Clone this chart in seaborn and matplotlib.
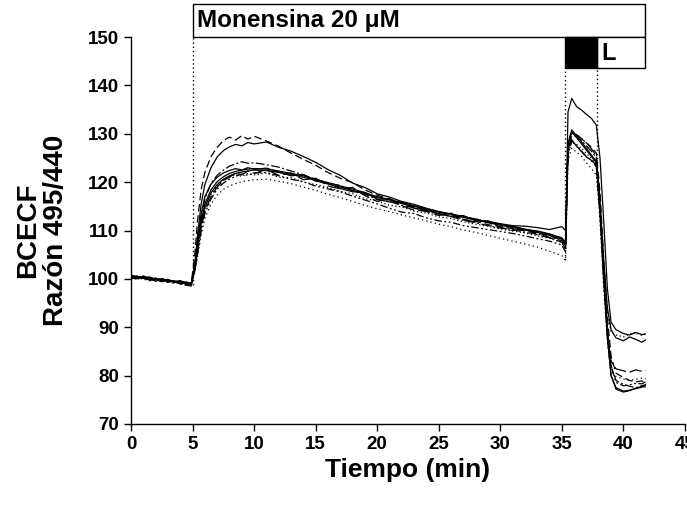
import matplotlib
matplotlib.use("Agg")
import matplotlib.pyplot as plt
from matplotlib.patches import Rectangle
import seaborn as sns
import pandas as pd

sns.set_style("ticks")
plt.rcParams['font.family'] = ['Liberation Sans', 'DejaVu Sans']
plt.rcParams['text.color'] = 'black'
plt.rcParams['axes.labelcolor'] = 'black'
plt.rcParams['xtick.color'] = 'black'
plt.rcParams['ytick.color'] = 'black'

# time axis (min)
t = [0, 0.5, 1, 1.5, 2, 2.5, 3, 3.5, 4, 4.5, 4.9,
     5.2, 5.4, 5.7, 6, 6.5, 7, 7.5, 8, 8.5, 9, 9.5, 10,
     11, 12, 13, 14, 15, 16, 17, 18, 19, 20, 21, 22, 23, 24, 25, 26, 27, 28, 29,
     30, 31, 32, 33, 34, 35, 35.3,
     35.5, 35.8, 36.2, 36.6, 37, 37.4, 37.8,
     38.1, 38.4, 38.7, 39.0, 39.4, 40, 40.5, 41, 41.5, 41.8]

cell_a = [100.6, 100.4, 100.2, 100.3, 99.9, 100.0, 99.7, 99.5, 99.6, 99.2, 99.0,
          103.5, 109, 115.5, 119.5, 123, 125.2, 126.5, 127.3, 127.8, 127.5, 128.2, 127.9,
          128.3, 127.2, 126.4, 125.3, 124.1, 122.6, 121.4, 119.8, 118.9, 117.6, 116.9, 116.0, 115.4,
          114.6, 113.9, 113.4, 112.8, 112.4, 111.7, 111.3, 110.9, 110.2, 109.9, 109.3, 108.4, 107.6,
          134.5, 137.3, 135.6, 134.9, 134.0, 133.2, 131.8,
          125, 112, 98, 91, 89.5, 88.7, 88.4, 88.9, 88.5, 88.6]
cell_b = [100.2, 100.5, 100.1, 99.8, 100.2, 99.6, 99.9, 99.3, 99.5, 99.0, 99.2,
          105.5, 112, 118.5, 122, 125.3, 127.2, 128.6, 129.3, 128.7, 129.6, 128.9, 129.5,
          128.5, 127.4, 126.0, 124.7, 123.5, 122.0, 120.8, 119.9, 118.4, 117.3, 116.5, 115.6, 114.9,
          114.3, 113.5, 113.1, 112.3, 111.9, 111.2, 110.8, 110.4, 109.9, 109.5, 108.9, 108.0, 107.2,
          128.5, 130.2, 129.8, 129.0, 128.1, 127.2, 126.0,
          118, 104, 92, 84, 80.5, 79.6, 79.0, 78.7, 78.9, 78.6]
cell_c = [100.4, 100.1, 100.3, 99.9, 99.7, 100.1, 99.5, 99.6, 99.1, 99.3, 98.9,
          103, 107.5, 112.5, 116.5, 119.8, 121.4, 122.5, 123.3, 123.8, 124.2, 123.9, 124.0,
          123.6, 123.1, 122.3, 121.5, 120.6, 119.8, 119.3, 118.2, 117.5, 116.4, 116.0, 115.2, 114.7,
          113.9, 113.4, 112.9, 112.1, 111.6, 111.0, 110.5, 110.2, 109.6, 109.3, 108.6, 107.9, 107.0,
          127.8, 130.0, 129.3, 128.6, 127.5, 126.4, 125.0,
          116, 102, 90, 82, 79, 78.2, 77.8, 77.5, 77.9, 77.6]
cell_d = [100.8, 100.3, 100.5, 100.0, 99.9, 99.7, 99.8, 99.4, 99.1, 99.4, 98.8,
          102.5, 106.5, 111.5, 114.8, 117.8, 119.5, 120.6, 121.3, 121.8, 122.1, 122.3, 122.5,
          122.4, 122.0, 121.6, 121.0, 120.4, 119.6, 119.0, 118.3, 117.6, 116.8, 116.3, 115.6, 115.0,
          114.3, 113.8, 113.3, 112.7, 112.2, 111.6, 111.1, 110.6, 110.1, 109.6, 109.0, 108.2, 106.8,
          128.0, 130.8, 129.6, 128.3, 127.0, 125.6, 124.3,
          114, 100, 88, 80, 77.5, 76.8, 77.0, 77.3, 77.6, 77.9]
cell_e = [100.1, 100.6, 99.8, 100.2, 99.5, 100.0, 99.3, 99.7, 98.9, 99.2, 98.7,
          102, 105.5, 110.5, 114, 117, 119, 120.3, 121.0, 121.9, 121.5, 122.3, 121.8,
          122.6, 121.4, 121.9, 120.5, 120.8, 119.2, 118.6, 118.9, 117.2, 116.0, 116.6, 115.1, 114.2,
          114.0, 113.1, 113.6, 112.2, 111.8, 112.0, 110.7, 110.0, 110.4, 109.1, 108.5, 107.6, 106.2,
          126.5, 129.6, 129.8, 128.9, 128.2, 126.9, 125.4,
          115, 101, 89, 83, 81.4, 81.0, 80.7, 81.2, 80.9, 81.1]
cell_f = [100.5, 100.2, 100.4, 99.7, 100.0, 99.5, 99.6, 99.0, 99.3, 98.6, 98.9,
          101.5, 104.5, 109, 112.5, 115.5, 117.3, 118.5, 119.2, 119.7, 120.1, 120.3, 120.5,
          120.6, 120.2, 119.7, 119.0, 118.3, 117.5, 116.8, 116.0, 115.2, 114.5, 113.9, 113.2, 112.6,
          112.0, 111.3, 110.8, 110.1, 109.6, 109.0, 108.4, 107.8, 107.2, 106.6, 105.7, 104.8, 103.8,
          124.5, 127.0, 126.2, 125.3, 124.0, 122.8, 121.5,
          112, 98, 87, 81, 79.8, 79.3, 79.0, 79.2, 79.5, 79.4]
cell_g = [100.3, 100.0, 100.6, 100.1, 99.8, 99.4, 99.9, 99.2, 99.6, 98.8, 99.1,
          103, 108, 113.5, 117, 119.6, 121, 121.9, 122.4, 122.8, 122.5, 123.0, 122.6,
          122.9, 122.1, 121.3, 121.6, 120.2, 119.8, 118.7, 118.0, 117.9, 116.5, 115.9, 115.8, 114.6,
          114.2, 113.5, 112.9, 113.1, 112.0, 111.9, 111.4, 111.0, 110.9, 110.6, 110.2, 110.8, 110.0,
          127.0, 128.8, 127.4, 126.3, 125.2, 124.5, 123.6,
          116, 104, 94, 89.5, 87.8, 87.2, 88.0, 87.5, 86.9, 87.4]
cell_h = [100.0, 100.4, 100.0, 99.6, 100.1, 99.8, 99.4, 99.5, 99.0, 98.7, 98.5,
          101.8, 105, 110, 113.5, 116.5, 118.6, 119.8, 120.6, 121.2, 121.7, 121.4, 121.9,
          122.0, 121.3, 120.6, 120.1, 119.2, 118.6, 118.0, 117.1, 116.3, 115.5, 114.6, 113.8, 113.5,
          112.6, 112.0, 111.7, 111.0, 110.6, 110.2, 109.8, 109.4, 108.9, 108.3, 107.8, 107.0, 105.6,
          125.5, 128.5, 127.6, 126.4, 125.3, 124.4, 123.2,
          113, 100, 89, 82, 78.6, 77.9, 78.1, 78.4, 78.3, 78.7]
cell_i = [100.7, 100.5, 100.2, 100.4, 99.9, 99.6, 99.8, 99.3, 99.5, 99.1, 99.0,
          102.8, 107, 112, 115.5, 118.4, 120.1, 121.1, 121.8, 122.2, 122.5, 122.7, 122.8,
          122.7, 122.3, 121.8, 121.3, 120.6, 119.9, 119.2, 118.6, 117.8, 117.0, 116.4, 115.8, 115.1,
          114.5, 113.9, 113.4, 112.9, 112.3, 111.8, 111.3, 110.8, 110.3, 109.8, 109.2, 108.5, 107.2,
          127.5, 130.4, 129.2, 127.9, 126.6, 125.3, 124.0,
          114, 100, 88, 80, 77.2, 76.6, 76.9, 77.4, 77.8, 78.2]
cell_j = [100.2, 99.9, 100.3, 100.0, 99.6, 99.9, 99.2, 99.6, 99.3, 98.9, 99.2,
          102.2, 106, 111, 114.5, 117.5, 119.3, 120.4, 121.1, 121.6, 121.2, 121.8, 121.5,
          121.9, 121.0, 120.9, 120.0, 119.5, 118.9, 118.1, 117.6, 116.6, 116.1, 115.2, 114.9, 114.0,
          113.6, 112.8, 112.5, 111.8, 111.3, 110.9, 110.3, 109.9, 109.5, 108.9, 108.4, 107.5, 106.0,
          126.0, 128.2, 127.8, 127.0, 125.9, 124.9, 123.8,
          115, 103, 93, 89, 88.4, 88.0, 88.6, 88.9, 88.3, 88.7]

series_names = ["a", "b", "c", "d", "e", "f", "g", "h", "i", "j"]
series_values = [cell_a, cell_b, cell_c, cell_d, cell_e, cell_f, cell_g, cell_h, cell_i, cell_j]

x_ticks = [0, 5, 10, 15, 20, 25, 30, 35, 40, 45]
y_ticks = [70, 80, 90, 100, 110, 120, 130, 140, 150]

monensin_start, monensin_end = 5.05, 41.75
l_black_start, l_black_end = 35.25, 37.85

styles = {
    "a": "-", "b": (0, (6, 3)), "c": (0, (7, 2, 1.5, 2)), "d": "-",
    "e": (0, (10, 3)), "f": (0, (1, 2.5)), "g": "-", "h": (0, (6, 2, 1.5, 2, 1.5, 2)),
    "i": "-", "j": (0, (1, 2)),
}

fig = plt.figure(figsize=(6.87, 5.05), dpi=100)
ax = fig.add_axes([0.1907, 0.1604, 0.8063, 0.7663])

for name, vals in zip(series_names, series_values):
    df = pd.DataFrame({"t": t, "v": vals})
    sns.lineplot(data=df, x="t", y="v", ax=ax, color="black", lw=0.9,
                 linestyle=styles[name], estimator=None, sort=False)

# dotted event markers
ax.plot([monensin_start, monensin_start], [98.8, 150], color="black", lw=1.0, ls=(0, (1, 2)))
ax.plot([l_black_start, l_black_start], [103.8, 143.5], color="black", lw=1.0, ls=(0, (1, 2)))
ax.plot([l_black_end, l_black_end], [124.0, 143.5], color="black", lw=1.0, ls=(0, (1, 2)))

ax.set_xlim(0, 45)
ax.set_ylim(70, 150)
ax.set_xticks(x_ticks)
ax.set_yticks(y_ticks)
for lab in ax.get_xticklabels() + ax.get_yticklabels():
    lab.set_fontweight("bold")
ax.tick_params(axis="both", labelsize=13.5, length=5, width=1, direction="out", colors="black")
ax.spines["top"].set_visible(False)
ax.spines["right"].set_visible(False)
for s in ("left", "bottom"):
    ax.spines[s].set_linewidth(1)
    ax.spines[s].set_color("black")

# annotation boxes
ax.add_patch(Rectangle((monensin_start, 150), monensin_end - monensin_start, 6.8,
                       facecolor="white", edgecolor="black", lw=1, clip_on=False, zorder=5))
ax.text(monensin_start + 0.3, 153.4, "Monensina 20 μM", fontsize=17.5, fontweight="bold",
        va="center", ha="left", zorder=6, clip_on=False)
ax.add_patch(Rectangle((l_black_end, 143.5), monensin_end - l_black_end, 6.5,
                       facecolor="white", edgecolor="black", lw=1, clip_on=False, zorder=5))
ax.add_patch(Rectangle((l_black_start, 143.5), l_black_end - l_black_start, 6.5,
                       facecolor="black", edgecolor="black", lw=1, clip_on=False, zorder=5))
ax.text(l_black_end + 0.35, 146.6, "L", fontsize=17, fontweight="bold",
        va="center", ha="left", zorder=6)

ax.set_xlabel("Tiempo (min)", fontsize=19, fontweight="bold", labelpad=4)
ax.set_ylabel("BCECF\nRazón 495/440", fontsize=20, fontweight="bold", linespacing=1.1)
ax.yaxis.set_label_coords(-0.112, 0.5)

fig.savefig("out.png", dpi=100)
